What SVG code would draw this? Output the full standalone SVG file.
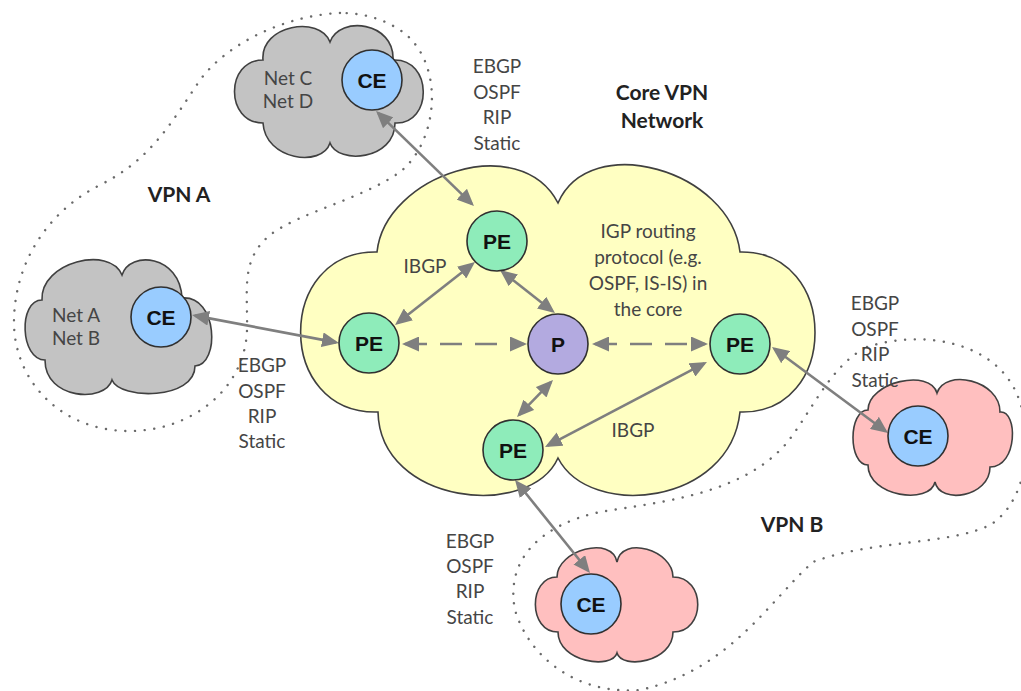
<svg xmlns="http://www.w3.org/2000/svg" width="1021" height="691" viewBox="0 0 1021 691">
<style>
.bg{fill:#ffffff}
.vpn{fill:none;stroke:#6a6a6a;stroke-width:2.4;stroke-dasharray:0.1 9.6;stroke-linecap:round}
.cloud{stroke:#404040;stroke-width:1.6}
.core{fill:#ffffc2}
.gray{fill:#c3c3c3}
.pink{fill:#ffbfbf}
.ce{fill:#99ccff;stroke:#303030;stroke-width:1.6}
.pe{fill:#8eecba;stroke:#303030;stroke-width:1.6}
.p{fill:#b3aae0;stroke:#303030;stroke-width:1.6}
.nl{font-family:"Liberation Sans",Arial,sans-serif;font-weight:bold;font-size:21px;fill:#111;text-anchor:middle}
.lbl{font-family:Lato,"Liberation Sans",sans-serif;font-size:19px;fill:#454545;text-anchor:middle}
.title{font-family:Lato,"Liberation Sans",sans-serif;font-weight:bold;font-size:21px;fill:#222;text-anchor:middle}
.con{fill:none;stroke:#7f7f7f;stroke-width:2.6;marker-start:url(#ah);marker-end:url(#ah)}
.dash{stroke-dasharray:22 13}
</style>
<defs>
<marker id="ah" viewBox="0 0 17 15" refX="14" refY="7.5" markerWidth="17" markerHeight="15" markerUnits="userSpaceOnUse" orient="auto-start-reverse">
<path d="M0,0 L17,7.5 L0,15 z" fill="#7f7f7f"/>
</marker>
</defs>
<rect class="bg" x="0" y="0" width="1021" height="691"/>

<g id="vpn-a-boundary">
<path class="vpn" d="M340,13 C290,15 230,40 200,80 C170,125 150,160 100,185 C50,210 15,260 14,320 C13,380 60,430 127,431 C190,432 245,390 247,330 C248,290 240,260 270,235 C300,212 360,200 400,172 C440,140 445,60 400,30 C380,17 360,13 340,13 Z"/>
</g>
<g id="vpn-b-boundary">
<path class="vpn" d="M867,347 C920,330 990,340 1015,390 C1035,430 1030,500 990,525 C950,545 870,540 813,562 C770,600 730,670 640,690 C580,695 530,660 515,610 C505,560 540,525 600,512 C660,502 740,495 785,445 C810,415 830,365 867,347 Z"/>
</g>

<g id="core-cloud">
<path class="cloud core" d="M377,252 C385,175 520,130 558,203 C590,130 730,170 740,252 C840,250 840,415 740,412 C730,505 590,520 558,458 C530,520 380,505 378,412 C275,415 275,250 377,252 Z"/>
</g>
<g id="cloud-cd">
<path class="cloud gray" d="M263,123 C225,123 225,60 263,60 C260,25 320,15 330,42 C340,15 395,22 393,60 C433,58 433,125 395,123 C395,160 338,165 330,143 C322,168 265,160 263,123 Z"/>
</g>
<g id="cloud-ab">
<path class="cloud gray" d="M45,360 C20,360 18,300 42,300 C40,262 110,245 122,275 C130,250 180,255 182,298 C218,295 220,365 195,366 C195,400 120,400 112,380 C105,403 45,400 45,360 Z"/>
</g>
<g id="cloud-b1">
<path class="cloud pink" d="M868,465 C848,465 848,410 868,410 C868,382 930,368 937,393 C945,368 1000,380 1000,412 C1018,410 1018,467 990,467 C990,497 940,505 935,482 C930,505 868,497 868,465 Z"/>
</g>
<g id="cloud-b2">
<path class="cloud pink" d="M558,632 C528,632 528,577 557,577 C557,550 612,535 617,562 C622,535 673,550 673,577 C706,577 706,632 673,632 C673,662 622,670 617,653 C612,670 558,662 558,632 Z"/>
</g>

<g id="connectors">
<path class="con" d="M378.2,113.1 L471.8,203.9"/>
<path class="con" d="M195,315.6 L336,342.4"/>
<path class="con" d="M472.6,263.9 L397.4,323.1"/>
<path class="con" d="M502.4,271.8 L552.6,311.2"/>
<path class="con dash" d="M405,344 L524,344"/>
<path class="con dash" d="M595,344 L705,344"/>
<path class="con" d="M550.9,382.2 L519.1,414.8"/>
<path class="con" d="M704.3,363.4 L547.7,445.6"/>
<path class="con" d="M774.4,348.8 L885.6,431.2"/>
<path class="con" d="M516.9,482.3 L588.1,570.7"/>
</g>

<g id="ce-top"><circle class="ce" cx="372" cy="80" r="30"/><text class="nl" x="372" y="88">CE</text></g>
<g id="ce-left"><circle class="ce" cx="161" cy="317" r="30"/><text class="nl" x="161" y="325">CE</text></g>
<g id="ce-right"><circle class="ce" cx="918" cy="436" r="30"/><text class="nl" x="918" y="444">CE</text></g>
<g id="ce-bottom"><circle class="ce" cx="591" cy="604" r="30"/><text class="nl" x="591" y="612">CE</text></g>
<g id="pe-top"><circle class="pe" cx="497" cy="241" r="30"/><text class="nl" x="497" y="249">PE</text></g>
<g id="pe-left"><circle class="pe" cx="369" cy="343" r="30"/><text class="nl" x="369" y="351">PE</text></g>
<g id="pe-right"><circle class="pe" cx="740" cy="344" r="30"/><text class="nl" x="740" y="352">PE</text></g>
<g id="pe-bottom"><circle class="pe" cx="513" cy="450" r="30"/><text class="nl" x="513" y="458">PE</text></g>
<g id="p-core"><circle class="p" cx="558" cy="344" r="30"/><text class="nl" x="558" y="352">P</text></g>

<g id="labels">
<text class="lbl" x="288" y="85">Net C</text>
<text class="lbl" x="288" y="108">Net D</text>
<text class="lbl" x="76" y="322">Net A</text>
<text class="lbl" x="76" y="345">Net B</text>

<text class="lbl" x="497" y="73">EBGP</text>
<text class="lbl" x="497" y="99">OSPF</text>
<text class="lbl" x="497" y="124">RIP</text>
<text class="lbl" x="497" y="150">Static</text>

<text class="lbl" x="262" y="372">EBGP</text>
<text class="lbl" x="262" y="398">OSPF</text>
<text class="lbl" x="262" y="423">RIP</text>
<text class="lbl" x="262" y="448">Static</text>

<text class="lbl" x="875" y="310">EBGP</text>
<text class="lbl" x="875" y="336">OSPF</text>
<text class="lbl" x="875" y="361">RIP</text>
<text class="lbl" x="875" y="387">Static</text>

<text class="lbl" x="470" y="548">EBGP</text>
<text class="lbl" x="470" y="573">OSPF</text>
<text class="lbl" x="470" y="598">RIP</text>
<text class="lbl" x="470" y="624">Static</text>

<text class="lbl" x="425" y="273">IBGP</text>
<text class="lbl" x="633" y="437">IBGP</text>

<text class="lbl" x="648" y="238">IGP routing</text>
<text class="lbl" x="648" y="264">protocol (e.g.</text>
<text class="lbl" x="648" y="290">OSPF, IS-IS) in</text>
<text class="lbl" x="648" y="316">the core</text>

<text class="title" x="179" y="202">VPN A</text>
<text class="title" x="792" y="532">VPN B</text>
<text class="title" x="662" y="100">Core VPN</text>
<text class="title" x="662" y="128">Network</text>
</g>
</svg>
